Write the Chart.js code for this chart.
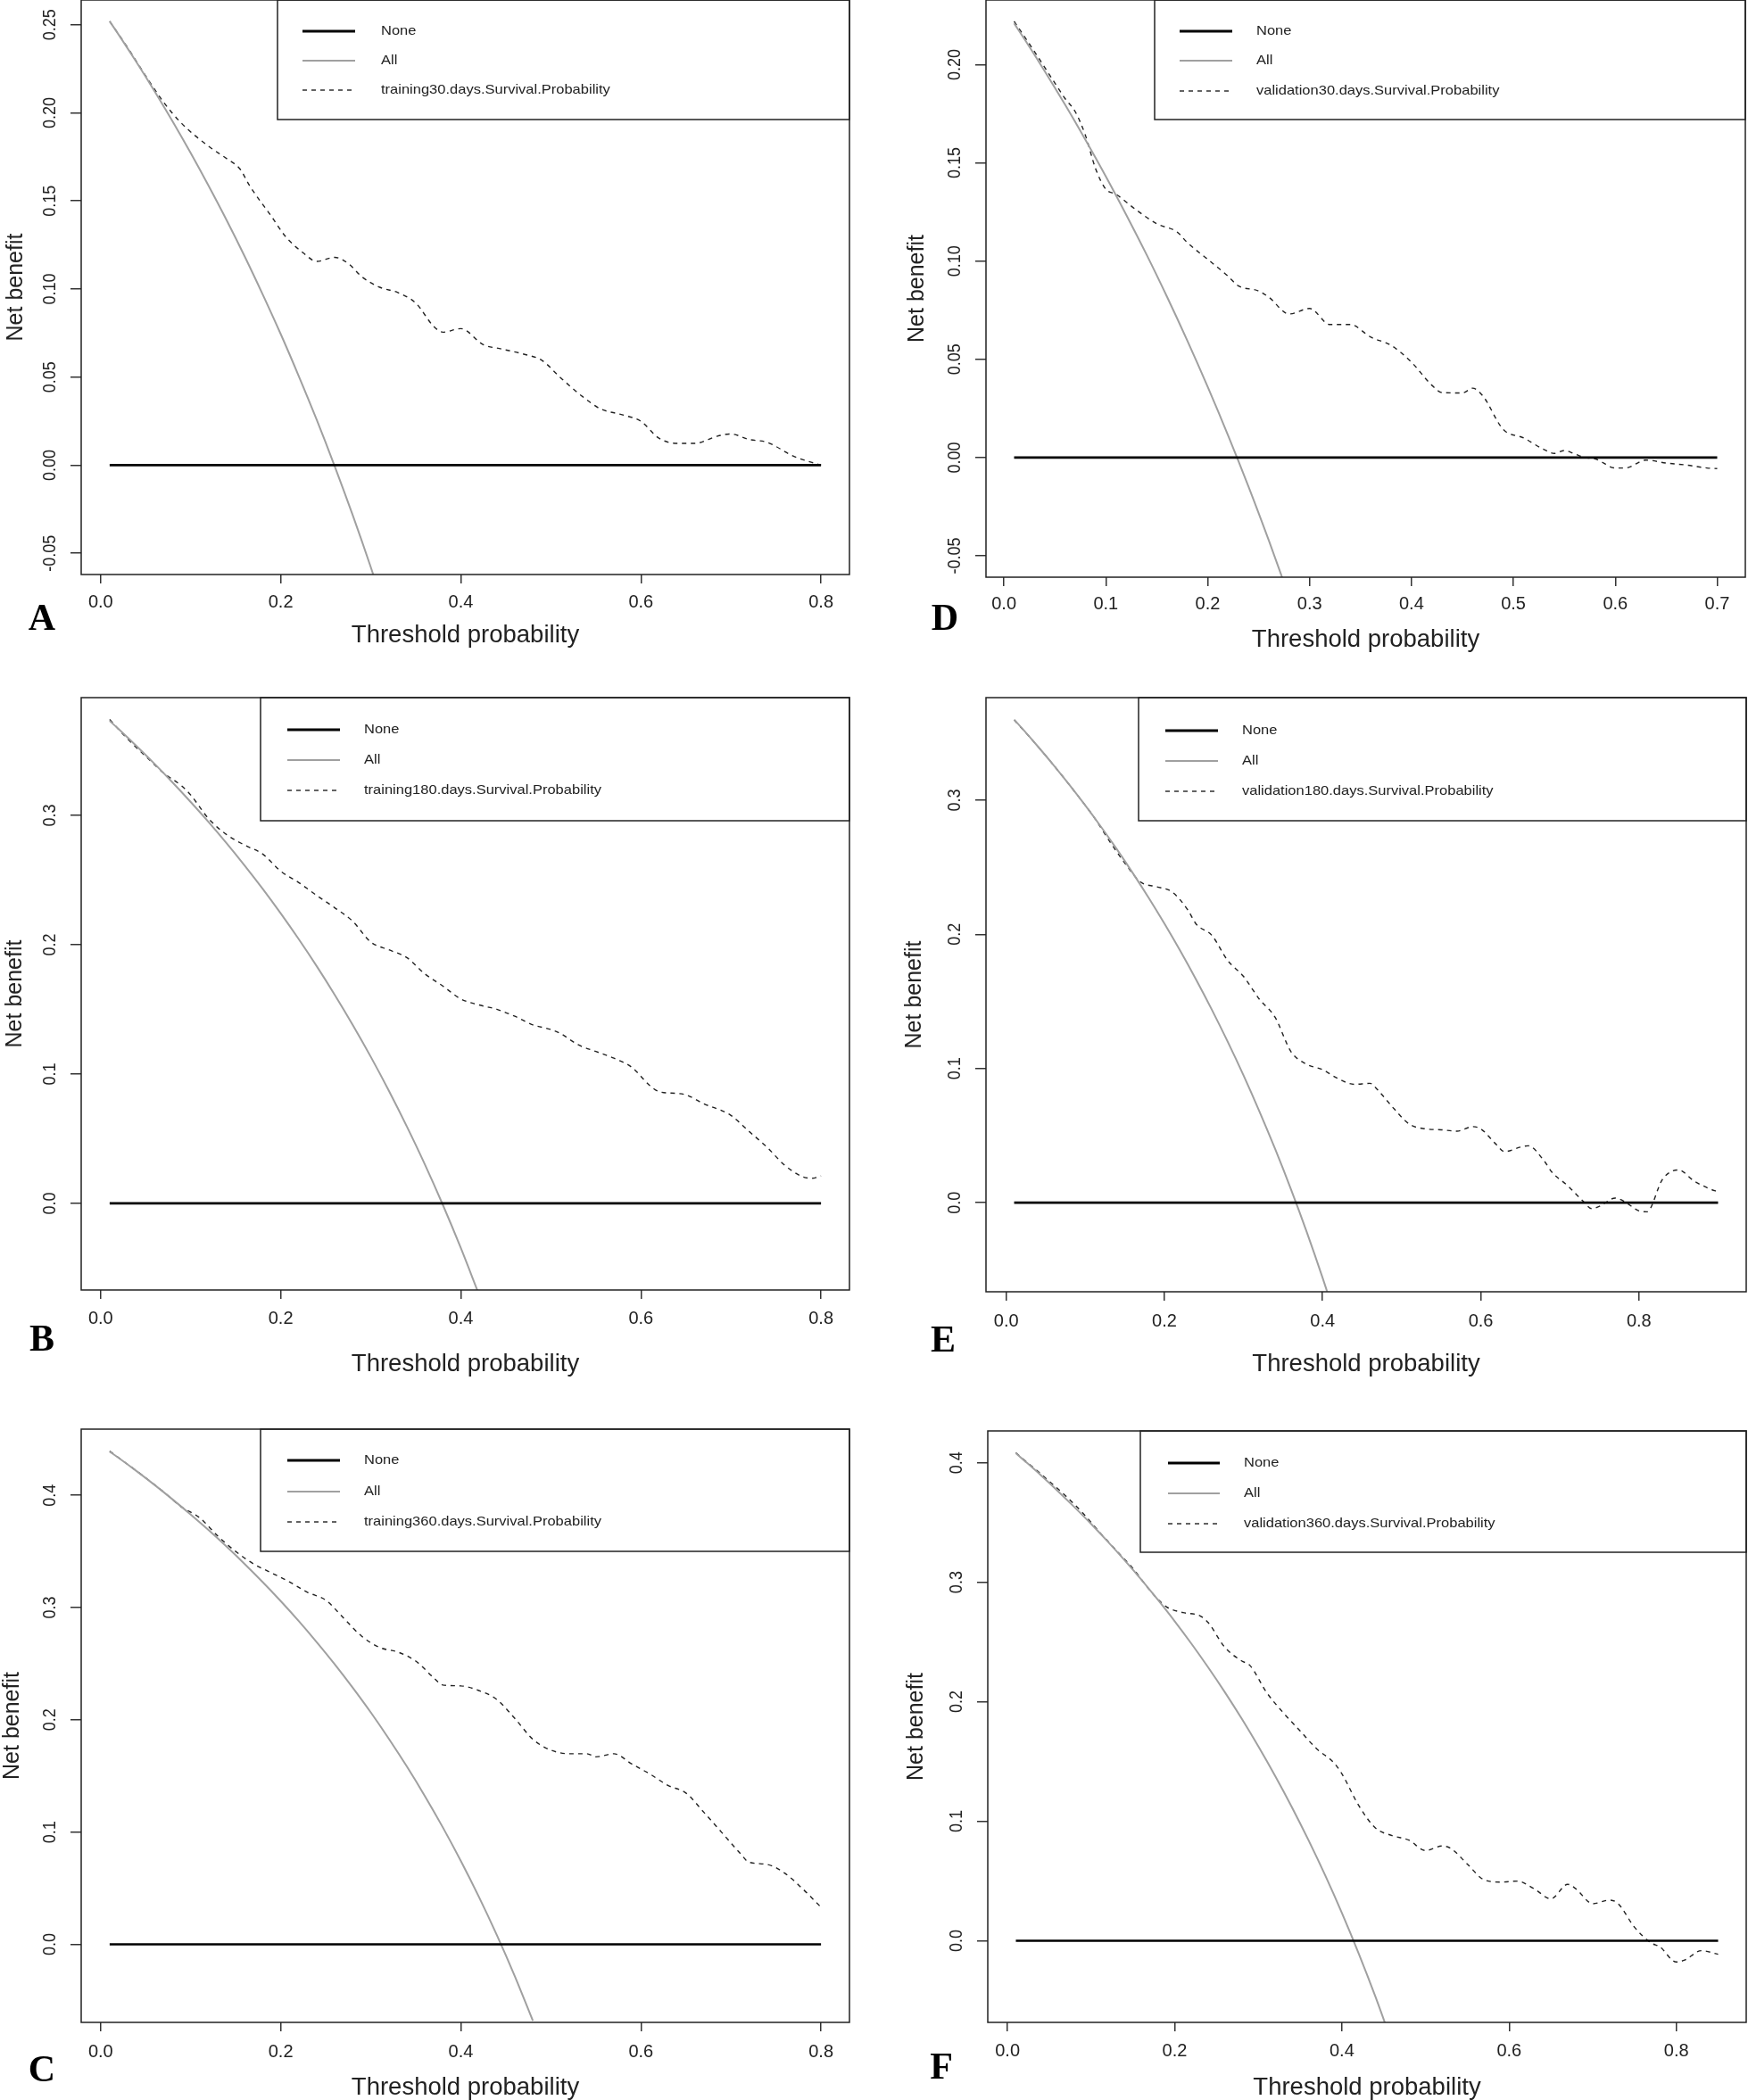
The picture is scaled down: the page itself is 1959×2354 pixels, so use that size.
<!DOCTYPE html>
<html>
<head>
<meta charset="utf-8">
<script src="https://cdn.jsdelivr.net/npm/chart.js@4.4.1/dist/chart.umd.min.js"></script>
<style>
  body { margin: 0; background: #fff; width: 1959px; height: 2354px; overflow: hidden; position: relative; }
  canvas { position: absolute; }
</style>
</head>
<body>
<script>
// thresholds where the "treat all" curves were read (shared by every panel)
const allPt = [0.01,0.02,0.04,0.06,0.08,0.10,0.12,0.14,0.16,0.18,0.20,0.22,0.24,0.26,0.28,0.30,0.32,0.34,0.36,0.38,0.40,0.42,0.44,0.46,0.48,0.50];
// "treat none" is zero everywhere
const noneNB = [0, 0];

// A - training, 30 days
const ptA = [0.01,0.03,0.05,0.07,0.09,0.12,0.14,0.155,0.165,0.19,0.205,0.225,0.24,0.26,0.275,0.29,0.31,0.33,0.35,0.37,0.38,0.40,0.425,0.445,0.47,0.49,0.51,0.535,0.555,0.58,0.60,0.62,0.64,0.66,0.685,0.70,0.72,0.74,0.77,0.80];
const nbA = [0.252,0.237,0.221,0.206,0.194,0.181,0.174,0.168,0.159,0.141,0.130,0.1205,0.1157,0.118,0.1145,0.107,0.101,0.098,0.092,0.0787,0.0755,0.0775,0.0684,0.066,0.063,0.0595,0.050,0.039,0.032,0.0285,0.0249,0.0153,0.0124,0.0124,0.0165,0.0177,0.0146,0.013,0.005,0.0];
const allA = [0.2520,0.2444,0.2286,0.2122,0.1951,0.1772,0.1585,0.1390,0.1185,0.0969,0.0744,0.0506,0.0257,-0.0007,-0.0285,-0.0579,-0.0890];

// B - training, 180 days
const ptB = [0.01,0.03,0.05,0.07,0.09,0.10,0.12,0.14,0.16,0.18,0.20,0.22,0.24,0.26,0.28,0.30,0.32,0.34,0.36,0.38,0.40,0.42,0.44,0.46,0.48,0.50,0.51,0.53,0.55,0.57,0.59,0.61,0.62,0.64,0.65,0.67,0.69,0.70,0.72,0.74,0.76,0.78,0.79,0.80];
const nbB = [0.374,0.359,0.3456,0.3326,0.3227,0.3157,0.2973,0.285,0.2769,0.270,0.2568,0.248,0.238,0.2285,0.218,0.202,0.196,0.190,0.1774,0.168,0.158,0.1534,0.150,0.1446,0.138,0.1344,0.1316,0.1227,0.1174,0.1122,0.1051,0.091,0.0864,0.085,0.0839,0.0769,0.0716,0.068,0.0557,0.0434,0.0293,0.0205,0.0194,0.0212];
const allB = [0.3730,0.3666,0.3534,0.3397,0.3253,0.3103,0.2947,0.2783,0.2611,0.2431,0.2241,0.2042,0.1833,0.1612,0.1379,0.1133,0.0872,0.0595,0.0302,-0.0011,-0.0345,-0.0702];

// C - training, 360 days
const ptC = [0.01,0.03,0.05,0.07,0.09,0.11,0.13,0.15,0.17,0.19,0.21,0.23,0.25,0.27,0.29,0.31,0.33,0.35,0.37,0.38,0.40,0.42,0.44,0.46,0.48,0.50,0.52,0.54,0.55,0.57,0.59,0.61,0.63,0.65,0.67,0.69,0.71,0.72,0.74,0.76,0.78,0.80];
const nbC = [0.4394,0.4276,0.4156,0.4030,0.3895,0.3800,0.3638,0.350,0.3388,0.3308,0.3227,0.3135,0.3066,0.2905,0.2744,0.2644,0.2604,0.2523,0.2374,0.231,0.2302,0.2261,0.2181,0.2012,0.1827,0.173,0.1698,0.1698,0.167,0.1698,0.1606,0.1517,0.1416,0.1348,0.1175,0.0994,0.0813,0.0732,0.0712,0.0632,0.0491,0.033];
const allC = [0.4390,0.4333,0.4215,0.4092,0.3963,0.3829,0.3689,0.3542,0.3388,0.3227,0.3058,0.2880,0.2692,0.2495,0.2286,0.2066,0.1832,0.1585,0.1322,0.1042,0.0743,0.0424,0.0082,-0.0285,-0.0681];

// D - validation, 30 days
const ptD = [0.01,0.03,0.05,0.06,0.07,0.08,0.09,0.10,0.11,0.13,0.15,0.17,0.18,0.20,0.22,0.23,0.25,0.26,0.28,0.30,0.32,0.34,0.36,0.38,0.40,0.42,0.43,0.45,0.46,0.47,0.49,0.51,0.53,0.54,0.55,0.56,0.57,0.58,0.60,0.61,0.63,0.65,0.67,0.69,0.70];
const nbD = [0.222,0.2066,0.1906,0.1827,0.176,0.164,0.147,0.1366,0.134,0.126,0.119,0.1148,0.1094,0.1009,0.0923,0.0874,0.0848,0.0816,0.0731,0.0759,0.0677,0.0677,0.0613,0.0571,0.0485,0.0368,0.0331,0.0329,0.0353,0.0314,0.0143,0.010,0.0041,0.0021,0.0036,0.0019,0.0,-0.0006,-0.0053,-0.0053,-0.0013,-0.0028,-0.0038,-0.0053,-0.0056];
const allD = [0.2210,0.2131,0.1967,0.1796,0.1617,0.1431,0.1236,0.1033,0.0819,0.0595,0.0360,0.0113,-0.0147,-0.0422,-0.0711];

// E - validation, 180 days
const ptE = [0.01,0.03,0.05,0.07,0.09,0.11,0.13,0.15,0.17,0.19,0.21,0.23,0.24,0.26,0.28,0.30,0.32,0.34,0.36,0.38,0.40,0.42,0.44,0.46,0.47,0.49,0.51,0.53,0.55,0.57,0.59,0.60,0.62,0.63,0.65,0.66,0.68,0.69,0.71,0.73,0.74,0.75,0.77,0.78,0.80,0.81,0.83,0.85,0.87,0.89,0.90];
const nbE = [0.3597,0.3468,0.3331,0.3187,0.3037,0.2881,0.2700,0.2530,0.2389,0.2355,0.2314,0.2178,0.2077,0.1992,0.1805,0.1686,0.1517,0.1381,0.1126,0.1031,0.0991,0.0923,0.0882,0.0889,0.0838,0.0702,0.0584,0.055,0.0543,0.0533,0.0567,0.055,0.0431,0.038,0.0414,0.0424,0.0312,0.0227,0.0126,0.0007,-0.0044,-0.0027,0.0034,0.0014,-0.0061,-0.0068,0.0176,0.0244,0.016,0.0102,0.0081];
const allE = [0.3600,0.3535,0.3400,0.3260,0.3113,0.2960,0.2800,0.2633,0.2457,0.2273,0.2080,0.1877,0.1663,0.1438,0.1200,0.0949,0.0682,0.0400,0.0100,-0.0219,-0.0560,-0.0924];

// F - validation, 360 days
const ptF = [0.01,0.03,0.05,0.07,0.09,0.11,0.13,0.15,0.17,0.19,0.21,0.23,0.24,0.26,0.28,0.29,0.31,0.33,0.35,0.37,0.39,0.40,0.42,0.44,0.46,0.48,0.50,0.52,0.53,0.55,0.57,0.59,0.61,0.63,0.65,0.67,0.68,0.70,0.72,0.73,0.75,0.77,0.78,0.80,0.81,0.83,0.85];
const nbF = [0.4083,0.3965,0.3845,0.3720,0.3580,0.3420,0.3267,0.3116,0.2935,0.2795,0.2746,0.272,0.2663,0.2455,0.2342,0.2304,0.2077,0.1907,0.1756,0.1605,0.1492,0.1397,0.1133,0.0944,0.088,0.0842,0.0755,0.0793,0.0774,0.0642,0.051,0.0491,0.0499,0.0434,0.0351,0.0472,0.0434,0.031,0.034,0.0313,0.0113,-0.0019,-0.0049,-0.0178,-0.0162,-0.0083,-0.0113];
const allF = [0.4080,0.4019,0.3895,0.3765,0.3629,0.3488,0.3340,0.3185,0.3023,0.2852,0.2674,0.2486,0.2288,0.2080,0.1860,0.1627,0.1381,0.1120,0.0842,0.0547,0.0232,-0.0105,-0.0466,-0.0854];

// tick values and labels
const xTicks8 = [0, 0.2, 0.4, 0.6, 0.8];
const xLabels8 = ['0.0', '0.2', '0.4', '0.6', '0.8'];
const xTicks7 = [0, 0.1, 0.2, 0.3, 0.4, 0.5, 0.6, 0.7];
const xLabels7 = ['0.0', '0.1', '0.2', '0.3', '0.4', '0.5', '0.6', '0.7'];
const yTicksA = [-0.05, 0, 0.05, 0.1, 0.15, 0.2, 0.25];
const yLabelsA = ['-0.05', '0.00', '0.05', '0.10', '0.15', '0.20', '0.25'];
const yTicksD = [-0.05, 0, 0.05, 0.1, 0.15, 0.2];
const yLabelsD = ['-0.05', '0.00', '0.05', '0.10', '0.15', '0.20'];
const yTicks3 = [0, 0.1, 0.2, 0.3];
const yLabels3 = ['0.0', '0.1', '0.2', '0.3'];
const yTicks4 = [0, 0.1, 0.2, 0.3, 0.4];
const yLabels4 = ['0.0', '0.1', '0.2', '0.3', '0.4'];

const FONT = '"Liberation Sans", Arial, sans-serif';
Chart.defaults.font.family = FONT;

// page layout in px: box = [left, right, top, bottom] of the plot frame
const panels = [
  {letter: 'A', name: 'training30.days.Survival.Probability', pt: ptA, nb: nbA, all: allA,
   xlim: [0.01, 0.8], ylim: [-0.05, 0.252], xt: xTicks8, xl: xLabels8, yt: yTicksA, yl: yLabelsA,
   box: [91, 952, 0, 644], legend: {l: 311, b: 134, rows: [35, 68, 101], line: [339, 398], text: 427},
   letterAt: [47, 706], yTitleX: 18, xTitleOff: 68, tickPad: 9},
  {letter: 'B', name: 'training180.days.Survival.Probability', pt: ptB, nb: nbB, all: allB,
   xlim: [0.01, 0.8], ylim: [-0.05, 0.374], xt: xTicks8, xl: xLabels8, yt: yTicks3, yl: yLabels3,
   box: [91, 952, 782, 1446], legend: {l: 292, b: 920, rows: [818, 852, 886], line: [322, 381], text: 408},
   letterAt: [47, 1514], yTitleX: 17, xTitleOff: 83, tickPad: 10},
  {letter: 'C', name: 'training360.days.Survival.Probability', pt: ptC, nb: nbC, all: allC,
   xlim: [0.01, 0.8], ylim: [-0.05, 0.4394], xt: xTicks8, xl: xLabels8, yt: yTicks4, yl: yLabels4,
   box: [91, 952, 1602, 2267], legend: {l: 292, b: 1739, rows: [1637, 1672, 1706], line: [322, 381], text: 408},
   letterAt: [47, 2333], yTitleX: 14, xTitleOff: 73, tickPad: 11},
  {letter: 'D', name: 'validation30.days.Survival.Probability', pt: ptD, nb: nbD, all: allD,
   xlim: [0.01, 0.7], ylim: [-0.05, 0.222], xt: xTicks7, xl: xLabels7, yt: yTicksD, yl: yLabelsD,
   box: [1105, 1956, 0, 647], legend: {l: 1294, b: 134, rows: [35, 68, 102], line: [1322, 1381], text: 1408},
   letterAt: [1059, 706], yTitleX: 1028, xTitleOff: 70, tickPad: 8},
  {letter: 'E', name: 'validation180.days.Survival.Probability', pt: ptE, nb: nbE, all: allE,
   xlim: [0.01, 0.9], ylim: [-0.05, 0.36], xt: xTicks8, xl: xLabels8, yt: yTicks3, yl: yLabels3,
   box: [1105, 1957, 782, 1448], legend: {l: 1276, b: 920, rows: [819, 853, 887], line: [1306, 1365], text: 1392},
   letterAt: [1057, 1515], yTitleX: 1025, xTitleOff: 81, tickPad: 11},
  {letter: 'F', name: 'validation360.days.Survival.Probability', pt: ptF, nb: nbF, all: allF,
   xlim: [0.01, 0.85], ylim: [-0.05, 0.4083], xt: xTicks8, xl: xLabels8, yt: yTicks4, yl: yLabels4,
   box: [1107, 1957, 1604, 2267], legend: {l: 1278, b: 1740, rows: [1640, 1674, 1708], line: [1309, 1367], text: 1394},
   letterAt: [1055, 2330], yTitleX: 1027, xTitleOff: 73, tickPad: 10}
];

const Y_AXIS_W = 95, X_AXIS_H = 110;

const pts = (xs, ys) => ys.map((y, i) => ({x: xs[i], y: y}));
// R pads the axis limits by 4% on each side
const padded = lim => { const r = lim[1] - lim[0]; return [lim[0] - 0.04 * r, lim[1] + 0.04 * r]; };

// frame, rotated y labels, legend box and panel letter
function decor(p, cx, cy) {
  return {
    id: 'decor',
    afterDraw(chart) {
      const ctx = chart.ctx, a = chart.chartArea, ys = chart.scales.y;
      ctx.save();
      ctx.setLineDash([]);
      ctx.strokeStyle = '#222';
      ctx.lineWidth = 1.5;
      ctx.strokeRect(a.left, a.top, a.right - a.left, a.bottom - a.top);

      ctx.fillStyle = '#222';
      ctx.font = '20px ' + FONT;
      ctx.textAlign = 'center';
      ctx.textBaseline = 'middle';
      ys.ticks.forEach((t, i) => {
        ctx.save();
        ctx.translate(a.left - 35, ys.getPixelForValue(t.value));
        ctx.rotate(-Math.PI / 2);
        ctx.scale(0.9, 1);
        ctx.fillText(p.yl[i], 0, 0);
        ctx.restore();
      });

      const lg = p.legend;
      ctx.strokeStyle = '#222';
      ctx.lineWidth = 1.5;
      ctx.strokeRect(lg.l - cx, a.top, a.right - (lg.l - cx), lg.b - cy - a.top);
      chart.data.datasets.forEach((d, i) => {
        const y = lg.rows[i] - cy;
        ctx.beginPath();
        ctx.strokeStyle = d.borderColor;
        ctx.lineWidth = d.legendWidth;
        ctx.setLineDash(d.borderDash || []);
        ctx.moveTo(lg.line[0] - cx, y);
        ctx.lineTo(lg.line[1] - cx, y);
        ctx.stroke();
        ctx.setLineDash([]);
        ctx.save();
        ctx.translate(lg.text - cx, y);
        ctx.scale(1, 0.92);
        ctx.font = '16.5px ' + FONT;
        ctx.textAlign = 'left';
        ctx.fillStyle = '#222';
        ctx.fillText(d.label, 0, 0);
        ctx.restore();
      });

      ctx.font = 'bold 42px "Liberation Serif", "Times New Roman", serif';
      ctx.textAlign = 'center';
      ctx.textBaseline = 'alphabetic';
      ctx.fillStyle = '#000';
      ctx.fillText(p.letter, p.letterAt[0] - cx, p.letterAt[1] - cy);
      ctx.restore();
    }
  };
}

panels.forEach(p => {
  const [l, r, t, b] = p.box;
  const cx = l - Y_AXIS_W, cy = t - 4;
  const cw = r + 4 - cx, ch = b - t + 4 + X_AXIS_H;
  const cv = document.createElement('canvas');
  cv.width = cw;
  cv.height = ch;
  cv.style.left = cx + 'px';
  cv.style.top = cy + 'px';
  document.body.appendChild(cv);

  const xr = padded(p.xlim), yr = padded(p.ylim);

  new Chart(cv, {
    type: 'line',
    data: {
      datasets: [
        {label: 'None', data: pts([p.xlim[0], p.xlim[1]], noneNB), borderColor: '#000', borderWidth: 2.6, legendWidth: 3, pointRadius: 0},
        {label: 'All', data: pts(allPt, p.all), borderColor: '#a0a0a0', borderWidth: 2, legendWidth: 2, pointRadius: 0, cubicInterpolationMode: 'monotone'},
        {label: p.name, data: pts(p.pt, p.nb), borderColor: '#222', borderWidth: 1.4, legendWidth: 1.4, borderDash: [5, 5], pointRadius: 0, cubicInterpolationMode: 'monotone'}
      ]
    },
    options: {
      responsive: false,
      animation: false,
      events: [],
      devicePixelRatio: 1,
      layout: {padding: {left: 0, top: 4, right: 4, bottom: 0}},
      plugins: {legend: {display: false}, tooltip: {enabled: false}},
      scales: {
        x: {
          type: 'linear', min: xr[0], max: xr[1], bounds: 'data',
          afterBuildTicks: s => { s.ticks = p.xt.map(v => ({value: v})); },
          afterFit: s => { s.height = X_AXIS_H; },
          grid: {drawOnChartArea: false, drawTicks: true, tickLength: 10, color: '#333', lineWidth: 1.5},
          border: {display: false},
          ticks: {autoSkip: false, maxRotation: 0, padding: p.tickPad, color: '#222', font: {size: 20}, callback: (v, i) => p.xl[i]},
          title: {display: true, text: 'Threshold probability', color: '#222', font: {size: 27.5, lineHeight: 1},
                  padding: {top: 0, bottom: X_AXIS_H - 13.75 - p.xTitleOff}}
        },
        y: {
          type: 'linear', min: yr[0], max: yr[1], bounds: 'data',
          afterBuildTicks: s => { s.ticks = p.yt.map(v => ({value: v})); },
          afterFit: s => { s.width = Y_AXIS_W; },
          grid: {drawOnChartArea: false, drawTicks: true, tickLength: 12, color: '#333', lineWidth: 1.5},
          border: {display: false},
          ticks: {display: false},
          title: {display: true, text: 'Net benefit', color: '#222', font: {size: 25, lineHeight: 1},
                  padding: {top: p.yTitleX - cx - 12.5, bottom: 0}}
        }
      }
    },
    plugins: [decor(p, cx, cy)]
  });
});
</script>
</body>
</html>
